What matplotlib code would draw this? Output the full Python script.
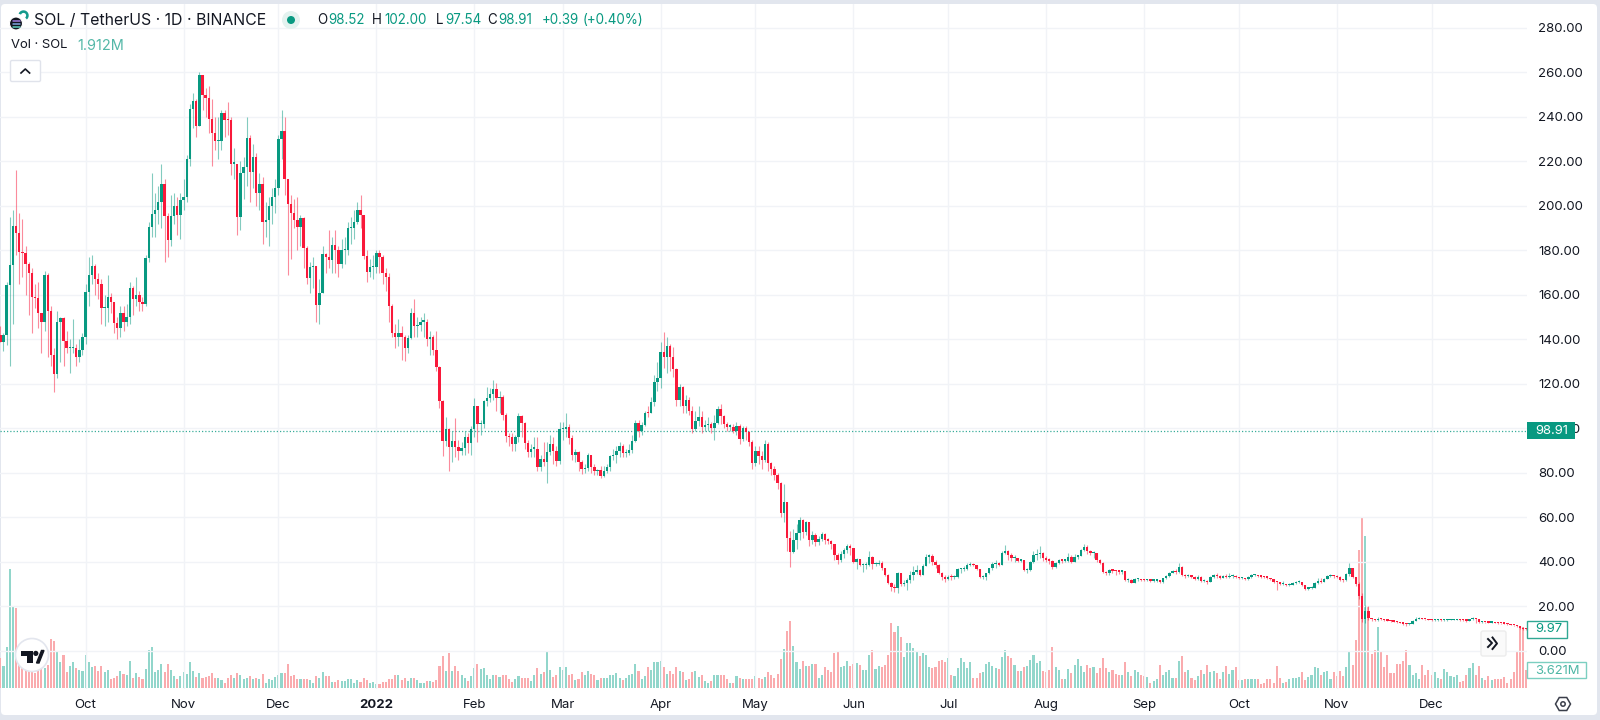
import matplotlib
matplotlib.use('Agg')
import matplotlib.pyplot as plt
from matplotlib.patches import Circle, FancyBboxPatch, Polygon, Rectangle, Wedge
import numpy as np

# daily candles, first one is 4 Sep 2021
closes = [
    139,142,164.5,173.5,191,188,179.5,178.7,174,170,
    159,158.5,152,147.7,169,153,133,124.3,148,149.5,
    139.3,136,136,136,132,135.3,141.3,161.5,169,173,
    167,165,154,154,159,157,147.5,145,152,148,
    150,163,158,160,157,156,176.8,190.4,196.4,198,
    202,209.7,195.5,184.7,195.5,200,196,202.7,204,221,
    243.6,247,236,258.9,250,248.7,239,233,229,229,
    242,238.7,238.6,219,219,195,215,217.7,230.7,215.4,
    221.9,206,210,193,193.5,200,204,208,230,233.7,
    212,200.7,196.7,193.7,190.7,194.5,181,167.5,172.7,173.2,
    155.5,161,178.4,177.2,175.7,182.5,180.2,174,180,180,
    190,190,193,198,196,177.5,170.5,172.7,172.7,179,
    177,170,168,155,143,141,143,141.3,136,140.5,
    151.8,146,146.5,148,148,140,141.2,135.3,127.5,112.5,
    94.4,99.8,91.8,94.5,91.8,89.9,91.4,96,93.3,99.6,
    110,102,102,112.5,113.6,115.5,117.6,113.6,114,106,
    96.6,96,92.9,96,105.6,102.3,93.6,89.6,91,91,
    82.8,86.3,84.8,89.3,93,90,85.4,99.8,99.8,100.8,
    95.9,88,89.6,84.8,81.6,82.4,88,82.8,80.9,81.3,
    78.8,81,82.5,87.6,88,89.9,92.3,88.8,88.8,90.3,
    94.4,102.3,98.9,101.6,107.1,107,111.8,120.7,122.8,134.5,
    132,137,132,126.7,113,118.5,110,113,108,99.6,
    103.4,105,100.5,101.6,102,100.4,102.3,108.8,105.8,102,
    100.8,100.8,99,101.3,95.3,100,98.6,94,84.6,89.9,
    87.8,85.8,93,84.3,81.6,79.1,75.4,62.2,66.8,50.9,
    44.6,49.9,52.9,58.9,53.6,57.8,49.9,52.1,48.8,50.3,
    52.6,49.9,49.6,47.9,43.1,40.9,43.6,45.4,47.2,46.1,
    40.1,41.2,38.7,38.7,38.7,42.4,39.1,39.1,39.4,37.2,
    34.2,30.7,28.6,28.4,34.9,30.1,30.7,31.9,34.2,35.7,
    36.4,34.2,38.2,42.4,42.7,39.9,38.7,35.2,33.4,32.2,
    33.4,33.1,33.4,36.7,36.7,37,38.5,38.8,38.7,36.7,
    33.1,33.1,34.9,37.2,39.1,39.7,38.7,43.9,44.9,43.1,
    41.6,41.6,40.6,40.9,36.4,36.4,40.1,43.1,43.6,43.9,
    41.6,40.9,40.6,37.9,39.4,40.9,40.6,40.6,42.4,40.1,
    42.4,42.8,45.4,46.6,45.1,43.9,43.9,40.9,39.7,35.7,
    34.9,36.4,36.1,36,35.7,36,31.9,31.9,30.7,32.2,
    32.2,32,31.8,31.8,31.6,31.6,31.9,30.9,32.7,33.7,
    34.9,35.8,35.4,37.9,34.2,33.7,33.7,33.4,32.2,33.4,
    31.5,31.6,31,33.1,34,33.7,32.7,33.7,33.1,33.7,
    33.7,33.1,32.7,32.8,32.2,33.1,34,34,33.7,33.4,
    33.1,33,32.2,31.2,30.9,30,30,29.5,29.8,30.4,
    31,31,29.7,28,28.2,28.5,30.5,31.5,31,32.5,
    33.5,34,33.5,33.3,32,31.8,34.5,37.3,33.2,30,
    24.7,14.2,18,14.8,14.3,13.9,14.5,14.3,14,13.7,
    13.5,13.2,13,12.7,12.3,12,12.3,13.5,14.5,14.6,
    14.5,14.3,14,13.9,13.9,14,13.9,13.9,14,14,
    14,14.1,14,13.9,13.7,14.2,14.6,14.4,12.9,13,
    12.9,12.8,12.8,12.7,12.6,12.4,12.3,12.2,11.8,11.5,
    11.2,10.2,10,9.97,
]
highs = [
    146,143,166,195,198,216,197,194,182,175,
    172,165,166,150,171,170,155,136,153,150,
    150,144,140,149,138,140,143,165,177,178,
    174,170,167,160,169,161,157,150,155,155,
    156,166,164,168,162,159,178,193,215,206,
    209,219,212,197,205,206,204,206,212,223,
    246,251,248,260,258.9,253,254,248,240,240,
    243,243,246.6,240,226,219,220,222,240,232,
    228,224,215,213,202,204,208,212,232,243,
    240,212,205,203,204,196,195,182,175,177,
    173,167,182,179,189,186,189,182,185,186,
    193,195,198,202,205,196,180,176,178,180,
    180,178,172,170,156,147,149,146,142,142,
    154,158,150,150,152,149,144,142,144,128,
    113,105,100,99,104.6,95,94,99,98,101,
    113.9,110,104,113,118.8,118,122,120.3,117,115,
    107,98,98,97,107,106,103,95,93,96,
    96,88,94,94,97,96,92,103,103,107,
    102,97,91,90,86,84,89,88,84,82,
    83,83,84,88,91,92,94,93,91,93,
    97,104,104,103,108,110,114,124,130,138.7,
    143.5,141.3,138,136.5,127,120,119,115,114,110,
    108,110,108,104,105,103,106,110,111,106,
    103,102,102,103,102,101,101,99,95,92,
    92,90,95,94,85,83,80,76,75,67,
    54,55,57,60,59.5,58.5,58,54,53,51.5,
    53.5,53,51,50,48,44,45,46.5,48,48,
    46.5,42,41.5,39.5,40,45,42.5,40,41,40.5,
    37.5,34.5,31,30,35.5,35,32,33,36,38,
    38.5,37,39,43.5,43.5,43.5,41,39,35.5,34,
    34,34.5,34,37.5,37.5,38,39.5,40,39.5,38.8,
    37,34,35,37.5,39.8,41,40,45,47.5,45.5,
    44,43,42,41.5,41,37.5,40.5,45,46,47,
    44.5,42.5,42,41,39.8,41.3,41,41.5,44,43,
    43.5,43,46,48,47.5,45.5,45,44,41.5,40,
    36,37,37,36.5,36.5,36.5,36,33,32.5,33,
    33,32.5,32.3,32.2,32,32.1,32.3,32,33,34,
    35.5,36.5,37,39.5,38,34.5,34.5,34,33.8,34,
    33.8,32.2,32,33.5,34.5,35,34,34.3,34.5,35,
    34.5,34,33.3,33.2,33,33.6,34.4,34.4,34.2,33.9,
    33.5,33.4,33,32.2,31.3,30.9,31.3,30,30.5,31,
    31.5,31.7,31.2,29.7,28.6,29,31,33,33,33,
    34,34.5,34.2,34,33.5,32.5,35,39.5,37.5,33.2,
    31,26,20.5,20,15,14.6,15.2,14.8,14.4,14.1,
    13.9,13.6,13.3,13.1,12.9,12.5,12.6,13.8,15.2,15.2,
    14.8,14.6,14.4,14.2,14.2,14.3,14.2,14.2,14.3,14.3,
    14.4,14.4,14.3,14.2,14,14.4,15.2,14.9,14.4,13.3,
    13.2,13.1,13,13,12.9,12.7,12.6,12.5,12.3,11.9,
    11.6,11.3,10.8,10.4,
]
lows = [
    139,135,137.5,128,147,178,165,168,160,151,
    143,154,145,134,144,132,128,116.6,122.5,130,
    128,134,124.8,134,128,130,133,138,155,165,
    160,158,147,146,148,152,143,140,141,144,
    146,147,151,155,153,153,155,175,186,186,
    192,190,175,177,182,192,187,185,198,202,
    218,235,231,236,243,240,233,218,225,221,
    225,231,232,214,212,187,189,203,209,202,
    208,200,198,183,186,182,192,197,205,221,
    205,169,176,190,180,182,172,165,161,163,
    148,147,161,170,172,170,170,168,172,174,
    178,183,185,192,190,176,166,168,167,170,
    170,165,162,148,141,136,137,131,130.5,134,
    140,141,141,144,141,137,133,133,126,109,
    87.8,92,81,85,87,86,88,88,89,88,
    96,94,97,100,110,112,113,108,107,104,
    94,92,90,90,94,96,91,87,87,87,
    81,81,83,75.6,88,84,83,84,95,96,
    93,86,85,81,79.5,80,81,80,79,79,
    77.6,78,80,81,86,84.6,87,87,87,88,
    89,94,96,97,101,105,107,110,117,118,
    127,125,126,123,110,110,107,107,106,98,
    99,101,98,99,99,98,94.8,102,102,100,
    99,99,98,97,93,94.5,95,92,82,83,
    84,82,85,81,79,77,73,60,58,45,
    37.8,44,46,50,51,52,47,48,47,47.5,
    49.5,48,48,46,41,39,40,42,44,43,
    39.5,37,38,35.5,37,38,37,38,38.5,36.5,
    33.5,30,27,26.5,26,29,29,27.5,30.5,32,
    34.5,33.5,34,38,39.5,38.5,37.5,34.5,32,31,
    32,32,32.5,33,35,36,36.5,38,38,36.3,
    32.8,32.5,32,34.5,36.5,37.5,38,38.5,43.5,41,
    40.5,40,40,40,36,35,36,39.5,41,42,
    40.5,40,39,37,37.5,39,39.5,40,40,39.5,
    40,41.5,42.5,45,43.5,43,42,40,39,35,
    34,34,35,34,34.5,34.5,31.5,31,30.5,30.5,
    31.5,31.5,31.4,31.3,31.2,31.2,31.2,30.5,30.6,32.4,
    33.4,35,34.5,35,33.8,33,33.2,32.8,32,32,
    31,31,30.3,30.8,33,33,32.2,32.6,32.7,33,
    32.9,32.8,32.4,32.2,31.8,32,33,33.5,33.3,33,
    32.8,32.5,31.8,30.5,27.5,29.7,29.5,29,29.3,29.8,
    30.2,30.4,29.4,27.6,27.6,28,28.4,30.2,30.6,31,
    32.4,33.2,33,32.8,31.5,31,31.6,33.8,32.8,29.2,
    23.5,13,12.5,14,13.5,13.4,13.7,13.9,13.7,13.4,
    13.2,13,12.7,12.4,11.8,11.2,11.8,12.2,13.4,14.2,
    14.2,14,13.8,13.7,13.6,13.7,13.7,13.6,13.7,13.8,
    13.8,13.8,13.7,13.4,13.2,13.5,14,12.8,12.6,12.7,
    12.7,12.6,12.5,12.4,12.3,12.2,12,11.9,11.5,11.1,
    10.9,9.7,9.5,9.6,
]
# volume in millions
volumes = [
    5.9,4.4,8.1,23.6,16.2,15.8,6,4.5,4,4,
    3.5,3,3.5,4,4,4.6,9.8,9.4,7.3,5.1,
    6.6,3.2,4.3,5.1,3.9,3.6,3.3,6.6,5.1,4.2,
    4.3,3.3,4.4,3.2,3.6,1.8,2,2.3,3.3,2.7,
    2.6,5.3,2,3,2.2,1.8,3.8,7.6,8.1,3.2,
    3.5,4.8,3.2,4.8,3.5,2.4,1.7,2.3,3.2,2.8,
    5.1,3.4,2.2,3,1.9,2.2,2.3,3,2,2,
    1.5,1,1.9,2.6,2,3,2.6,1.7,1.9,2.4,
    1.7,1.9,1.8,2.7,1,1.7,1.5,2.1,2.6,3,
    2.9,4.8,2.4,2.6,1.8,1.7,1.7,1.8,1.5,1,
    2.4,2,3.2,2.4,2.4,1.2,1.2,1.5,1.3,1.3,
    1.7,1.7,1,1.5,1.1,2,1.5,1,1.1,0.7,
    0.7,1.1,1.1,1.7,1.7,2.6,2.6,1.5,1.9,1.3,
    2,2,1.5,0.9,1,1.3,1.3,1.2,1.5,4.4,
    6.3,3.4,6.9,3.4,4.4,3.4,2.6,2,1.3,2.4,
    4,4.8,3.8,4,2.6,1.7,2.6,2.6,2.2,2.6,
    2.5,1.8,1.2,1.8,2.3,2,2,2,1.3,2.5,
    4,2.8,3.2,7.3,3.6,2.2,2.5,4.2,3.6,4.2,
    2.5,2.8,1.5,1.8,3.2,2.6,3.3,2.8,2.5,1.5,
    2,2,2,2.6,2.6,2.9,2,1.5,2,2.6,
    2.8,4.7,3.3,1.8,2.3,4.1,3.6,5.1,5.1,5.4,
    4.1,2.8,3.3,2.8,4.2,3.3,3.2,1.5,1.7,3.2,
    3.4,2.2,2.6,1.4,1,1.4,2.6,2.6,2.6,2.6,
    1.8,1,1,2.3,1.9,1.8,1.8,1.8,1.8,2.3,
    1.9,1.7,2.2,3.2,2.6,1.9,2.7,5.7,7.7,11.2,
    13.3,8.4,5.1,3.8,5.3,4.3,4.4,4.7,4.7,1.9,
    2.6,4.1,3.6,3.2,6.9,7.4,4.2,4.4,5.3,4.4,
    4.7,5,4.5,3.6,3.6,6.6,7.5,3.8,4.4,4.2,
    4.6,6.6,12.9,11,12.3,10.2,6.1,9,9,8,
    7.3,6.3,6.9,6.6,4.2,4,4.1,5.4,5.6,5.1,
    6,2.6,2.3,4,5.9,5.2,4,5.2,2,2,
    3,3.1,4.7,5.1,4.4,3.9,3.8,6.1,7.6,6.3,
    5.9,4.5,3.3,3.3,4.2,4.4,5.6,6.6,5,5.3,
    3.3,3.2,3.5,8.1,4.1,3.6,1.7,1.7,3.8,3,
    4.5,5.7,4.4,3.1,4.5,4,4.2,3,4,5.9,
    4,3.2,3.6,2.8,2.6,2.6,5.1,3.1,2.3,3.6,
    3.2,2.5,2.4,2.1,1,1.3,1.7,4.6,2.6,3.1,
    3.6,2,2,5.3,6.3,3.1,3.5,2,1.5,2.3,
    3.5,2.8,4.5,3.1,3.3,3,1.7,3.2,4.3,2.8,
    3.6,4.1,1.5,1.5,1.8,1.8,1.8,1.8,1.7,0.8,
    1,1.7,1.8,1,4.3,2,0.9,1.1,1.7,1.9,
    2,2.1,3.2,1.5,2.1,2.5,4.2,4,2.6,3.1,
    3.3,1.8,3.1,2.3,3.3,2.3,4.1,7.3,4.6,9.6,
    27.4,33.7,30.2,16.3,6.7,7.5,12.1,7.4,4.1,6.5,
    3,3,4.8,4.8,5.4,7.6,4.6,2.6,3,1.8,
    4.6,2.6,3.5,2.6,3.1,1.9,1.7,3.8,3.2,2.4,
    2.2,2.6,1.1,1.3,2.6,4,5,2.6,4.4,1.9,
    1.5,2.3,1.5,1.8,1.7,1.7,2.1,0.9,1.7,3.1,
    7.2,12,12.1,3.621,
]
opens = [142] + closes[:-1]

month_starts = [27, 58, 88, 119, 150, 178, 209, 239, 270, 300, 331, 362, 392, 423, 453]
month_labels = ['Oct', 'Nov', 'Dec', '2022', 'Feb', 'Mar', 'Apr', 'May', 'Jun', 'Jul', 'Aug',
                'Sep', 'Oct', 'Nov', 'Dec']
price_ticks = list(range(0, 300, 20))
last_price = 98.91

up_col = '#089981'
down_col = '#f9193a'
up_vol = '#92d6cb'
down_vol = '#faabae'
grid_col = '#f1f3f7'
text_col = '#131722'
W, H = 1600, 720

plt.rcParams['font.family'] = ['Inter', 'DejaVu Sans']
fig = plt.figure(figsize=(W / 100, H / 100), dpi=100, facecolor='#e2e6ee')


def rect(x0, y0, x1, y1):
    # pixel box (top left origin) to figure fractions
    return [x0 / W, 1 - y1 / H, (x1 - x0) / W, (y1 - y0) / H]


bg = fig.add_axes([0, 0, 1, 1], zorder=0)
bg.set_xlim(0, W)
bg.set_ylim(H, 0)
bg.axis('off')
bg.add_patch(FancyBboxPatch((5, 8), 1588, 703, boxstyle='round,pad=4', fc='white', ec='none'))

# volume pane sits under the candles, both share the x index
ax_vol = fig.add_axes(rect(0, 3.5, 1527, 689), zorder=1)
ax = fig.add_axes(rect(0, 3.5, 1527, 689), zorder=2)
ax.patch.set_alpha(0)
ax_vol.patch.set_alpha(0)

x = np.arange(len(closes))
closes_a = np.array(closes)
opens_a = np.array(opens)
is_up = closes_a >= opens_a

ax_vol.bar(x, volumes, width=0.66, color=[up_vol if u else down_vol for u in is_up], zorder=2)
ax_vol.set_ylim(-0.2, 135.6)
ax_vol.set_xlim(-0.1, 483.2)
ax_vol.axis('off')

cols = [up_col if u else down_col for u in is_up]
ax.vlines(x, lows, highs, colors=cols, linewidth=0.8, alpha=0.5, zorder=3)
# keep very small bodies visible
bottoms = np.minimum(opens_a, closes_a)
heights = np.maximum(np.abs(closes_a - opens_a), 0.55)
ax.bar(x, heights, bottom=bottoms, width=0.76, color=cols, zorder=4)

ax.axhline(last_price, color=up_col, linewidth=0.9, linestyle=(0, (1, 1.6)), alpha=0.8, zorder=2)

ax.set_xlim(-0.1, 483.2)
ax.set_ylim(-17.08, 291)
ax.set_xticks(month_starts)
ax.set_xticklabels(month_labels)
ax.set_yticks(price_ticks)
ax.set_yticklabels(['%.2f' % p for p in price_ticks])
ax.yaxis.tick_right()
ax.tick_params(axis='y', length=0, pad=8, labelsize=9.5, labelcolor=text_col)
ax.tick_params(axis='x', length=0, pad=7, labelsize=9.5, labelcolor=text_col)
ax.get_xticklabels()[3].set_fontweight('bold')
ax.grid(True, color=grid_col, linewidth=1.0, zorder=0)
ax.set_axisbelow(True)
for s in ax.spines.values():
    s.set_visible(False)
for s in ax_vol.spines.values():
    s.set_visible(False)

# header, price boxes and buttons in pixel coordinates
over = fig.add_axes([0, 0, 1, 1], zorder=5)
over.set_xlim(0, W)
over.set_ylim(H, 0)
over.axis('off')


def label(px, py, s, color=text_col, size=13, **kw):
    over.text(px, py, s, color=color, fontsize=size * 0.72, va='center', ha=kw.pop('ha', 'left'), **kw)


# SOL logo
over.add_patch(Wedge((23.5, 15.5), 5.2, 200, 50, width=2.6, fc='#159a8c', ec='none'))
over.add_patch(Circle((16, 23.5), 6.5, fc='#12151f', ec='white', lw=0.8))
for yy, c in [(20.5, '#9f7de0'), (23.5, '#7fa6e0'), (26.5, '#5fd0c0')]:
    over.plot([12.5, 19.5], [yy, yy], color=c, lw=1.1, solid_capstyle='round')

label(34, 20.5, 'SOL / TetherUS · 1D · BINANCE', size=15.85)
over.add_patch(Circle((291, 20), 9, fc='#e3f2ef', ec='none'))
over.add_patch(Circle((291, 20), 4, fc=up_col, ec='none'))

header = [(317, 'O', text_col), (328, '98.52', up_col), (372, 'H', text_col), (384, '102.00', up_col),
          (436, 'L', text_col), (445, '97.54', up_col), (487, 'C', text_col), (498, '98.91', up_col),
          (542, '+0.39', up_col), (583, '(+0.40%)', up_col)]
for px, s, c in header:
    label(px, 20.5, s, color=c, size=13.4)

label(11, 45.5, 'Vol · SOL', size=13)
label(77, 45.5, '1.912M', color='#55b8a8', size=14.5)
over.add_patch(FancyBboxPatch((12, 62), 27, 18, boxstyle='round,pad=1.5', fc='white', ec='#e0e3eb', lw=1))
over.plot([21, 25.3, 29.6], [73, 69, 73], color=text_col, lw=1.2)

# price scale boxes
over.add_patch(Rectangle((1527, 422), 48, 17, fc=up_col, ec='none'))
label(1535, 430.5, '98.91', color='white')
over.add_patch(Rectangle((1527, 620.5), 40, 17, fc='white', ec='#31a894', lw=1))
label(1535, 629, '9.97', color=up_col)
over.add_patch(Rectangle((1527, 662), 59, 16, fc='white', ec='#7ccfc1', lw=1))
label(1535, 670.5, '3.621M', color='#4db7a5')

# TradingView badge
over.add_patch(Circle((32, 655), 16.5, fc='white', ec='#e3e6ee', lw=1.2))
over.add_patch(Polygon([(21, 650.5), (33, 650.5), (33, 663), (27, 663), (27, 656), (21, 656)], fc='#131722', ec='none'))
over.add_patch(Circle((35.8, 653.4), 2.6, fc='#131722', ec='none'))
over.add_patch(Polygon([(36.5, 663), (41.5, 650.5), (44, 650.5), (39, 663)], fc='#131722', ec='#131722', lw=1))

# scroll button and settings icon
over.add_patch(FancyBboxPatch((1483, 633), 21, 21, boxstyle='round,pad=2', fc='#fafafa', ec='#ececec', lw=1))
over.plot([1488, 1492, 1488], [639, 643, 647], color=text_col, lw=1.4)
over.plot([1492.5, 1497, 1492.5], [637.5, 643.5, 649], color=text_col, lw=1.4)
hex_a = np.deg2rad(np.arange(0, 360, 60))
over.add_patch(Polygon(np.c_[1563 + 7.5 * np.cos(hex_a), 704 + 7.5 * np.sin(hex_a)], fc='white', ec='#3a3e4a', lw=1.1))
over.add_patch(Circle((1563, 704), 2.2, fc='white', ec='#3a3e4a', lw=1.1))

fig.savefig('out.png', dpi=100, facecolor=fig.get_facecolor())
